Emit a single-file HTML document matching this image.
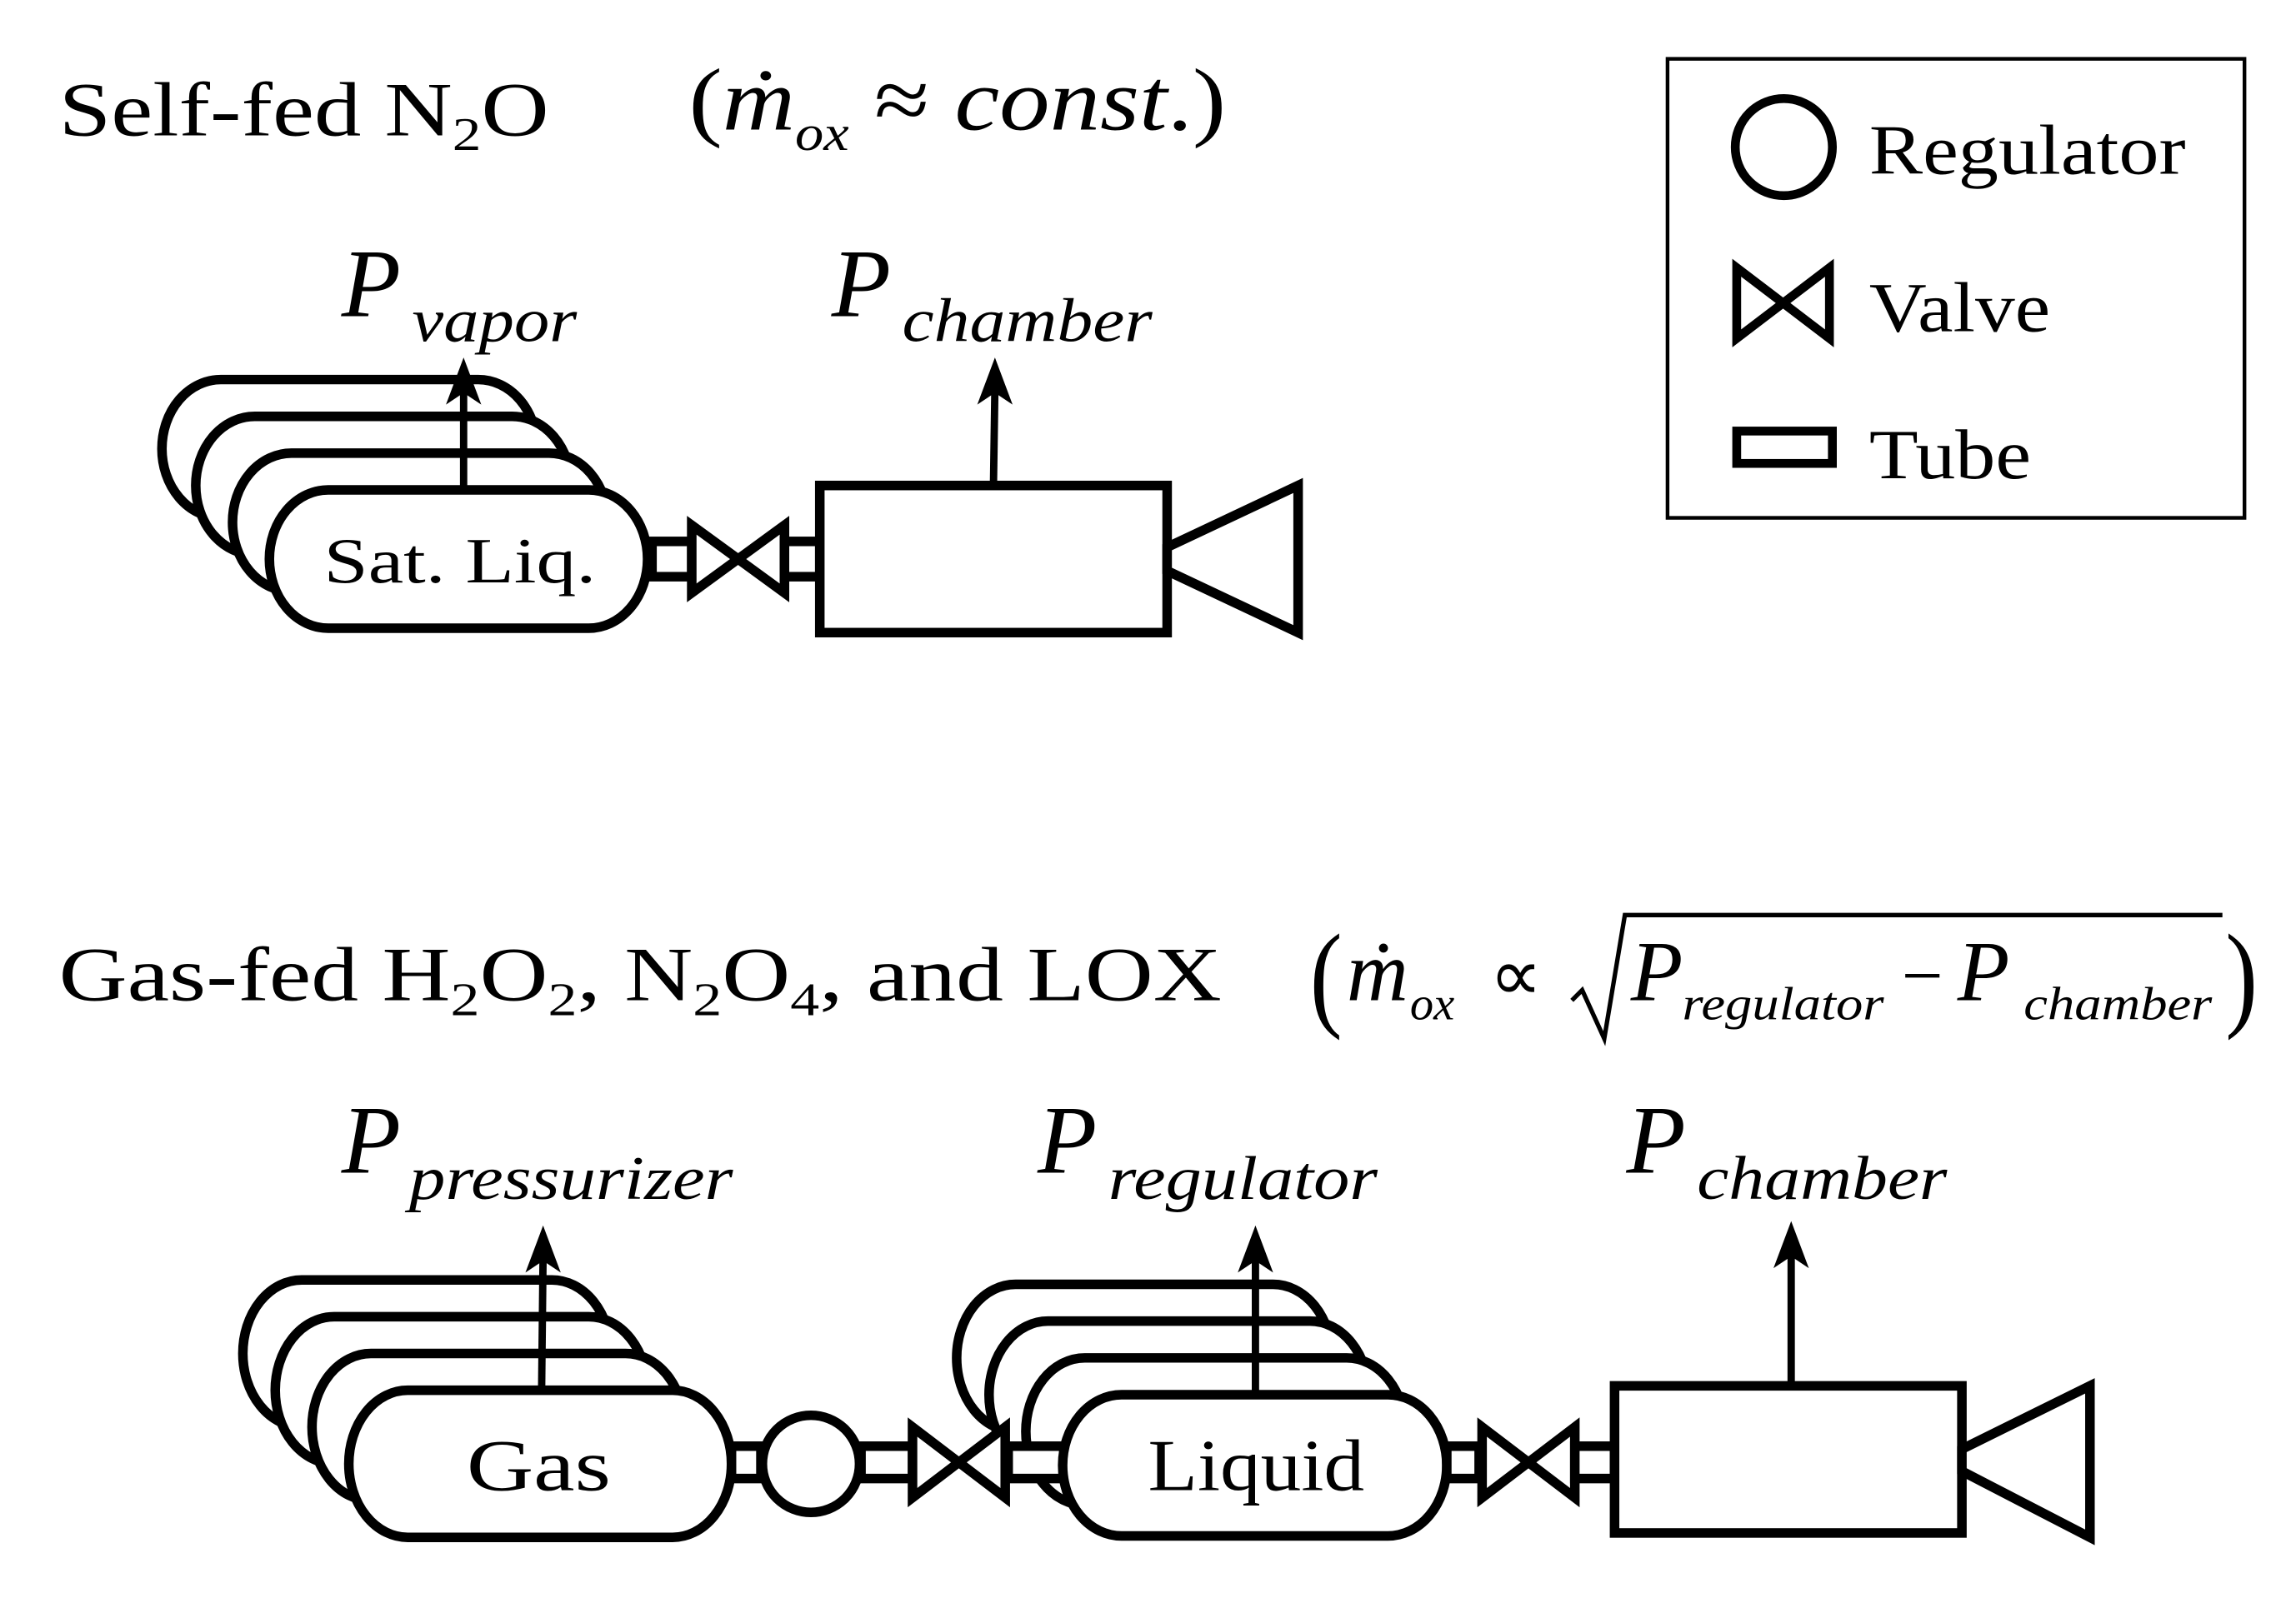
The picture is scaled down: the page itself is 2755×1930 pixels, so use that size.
<!DOCTYPE html>
<html><head><meta charset="utf-8"><style>
html,body{margin:0;padding:0;background:#fff;}
svg{display:block;}
text{font-family:"Liberation Serif","Times New Roman",serif;fill:#000;}
.it{font-style:italic;}
</style></head><body>
<svg width="2755" height="1930" viewBox="0 0 1560 1093" preserveAspectRatio="none" xmlns="http://www.w3.org/2000/svg">
<g fill="none" stroke="#000" stroke-width="6">
<rect x="1133" y="40" width="392" height="312" stroke-width="2.5"/>
<circle cx="1212" cy="100" r="33"/>
<path d="M1180,182 L1243,230 L1243,182 L1180,230 Z"/>
<rect x="1180" y="293" width="65" height="22"/>
</g>
<text x="1270" y="118" font-size="48" textLength="215" lengthAdjust="spacingAndGlyphs">Regulator</text>
<text x="1270" y="225" font-size="48" textLength="123" lengthAdjust="spacingAndGlyphs">Valve</text>
<text x="1270" y="325" font-size="48" textLength="110" lengthAdjust="spacingAndGlyphs">Tube</text>

<text x="40" y="92" font-size="52" textLength="333" lengthAdjust="spacingAndGlyphs">Self-fed N<tspan font-size="32" dy="10">2</tspan><tspan dy="-10">O</tspan></text>
<text x="468" y="88" font-size="60" textLength="365" lengthAdjust="spacingAndGlyphs">(<tspan class="it">ṁ</tspan><tspan class="it" font-size="34" dy="14">ox</tspan><tspan dy="-14"> ≈ </tspan><tspan class="it">const</tspan>.)</text>

<text x="40" y="680" font-size="52" textLength="790" lengthAdjust="spacingAndGlyphs">Gas-fed H<tspan font-size="32" dy="10">2</tspan><tspan dy="-10">O</tspan><tspan font-size="32" dy="10">2</tspan><tspan dy="-10">, N</tspan><tspan font-size="32" dy="10">2</tspan><tspan dy="-10">O</tspan><tspan font-size="32" dy="10">4</tspan><tspan dy="-10">, and LOX</tspan></text>
<text x="890" y="690" font-size="80" textLength="22" lengthAdjust="spacingAndGlyphs">(</text>
<text x="1512" y="690" font-size="80" textLength="22" lengthAdjust="spacingAndGlyphs">)</text>
<text x="915" y="680" font-size="58" class="it">ṁ</text>
<text x="958" y="693" font-size="32" class="it">ox</text>
<text x="1012" y="680" font-size="50">∝</text>
<path d="M1068,680 L1075,673 L1090,706 L1104,622 L1510,622" fill="none" stroke="#000" stroke-width="3"/>
<text x="1108" y="680" font-size="58" class="it">P</text>
<text x="1143" y="693" font-size="32" class="it" textLength="137" lengthAdjust="spacingAndGlyphs">regulator</text>
<text x="1292" y="680" font-size="50">−</text>
<text x="1330" y="680" font-size="58" class="it">P</text>
<text x="1375" y="693" font-size="32" class="it" textLength="128" lengthAdjust="spacingAndGlyphs">chamber</text>

<g fill="#fff" stroke="#000" stroke-width="6.5">
<path d="M150,258 L325,258 A40,47 0 0 1 325,352 L150,352 A40,47 0 0 1 150,258 Z"/>
<path d="M173,283 L348,283 A40,47 0 0 1 348,377 L173,377 A40,47 0 0 1 173,283 Z"/>
<path d="M198,308 L373,308 A40,47 0 0 1 373,402 L198,402 A40,47 0 0 1 198,308 Z"/>
<path d="M223,333 L400,333 A40,47 0 0 1 400,427 L223,427 A40,47 0 0 1 223,333 Z"/>
<rect x="443" y="368" width="27" height="24"/>
<path d="M470,357 L533,403 L533,357 L470,403 Z"/>
<rect x="533" y="368" width="24" height="24"/>
<rect x="557" y="330" width="236" height="100"/>
<path d="M793,372 L882,330 L882,430 L793,388 Z"/>

<path d="M205,870 L375,870 A40,50 0 0 1 375,970 L205,970 A40,50 0 0 1 205,870 Z"/>
<path d="M227,895 L400,895 A40,50 0 0 1 400,995 L227,995 A40,50 0 0 1 227,895 Z"/>
<path d="M252,920 L425,920 A40,50 0 0 1 425,1020 L252,1020 A40,50 0 0 1 252,920 Z"/>
<path d="M277,945 L457,945 A40,50 0 0 1 457,1045 L277,1045 A40,50 0 0 1 277,945 Z"/>
<rect x="497" y="983" width="20" height="22"/>
<circle cx="551" cy="995" r="33"/>
<rect x="585" y="983" width="35" height="22"/>
<path d="M690,873 L865,873 A40,50 0 0 1 865,973 L690,973 A40,50 0 0 1 690,873 Z"/>
<path d="M712,898 L890,898 A40,50 0 0 1 890,998 L712,998 A40,50 0 0 1 712,898 Z"/>
<path d="M737,923 L915,923 A40,50 0 0 1 915,1023 L737,1023 A40,50 0 0 1 737,923 Z"/>
<rect x="685" y="983" width="40" height="22"/>
<path d="M620,970 L683,1018 L683,970 L620,1018 Z"/>
<path d="M762,948 L943,948 A40,48 0 0 1 943,1044 L762,1044 A40,48 0 0 1 762,948 Z"/>
<rect x="983" y="983" width="22" height="22"/>
<path d="M1007,970 L1070,1018 L1070,970 L1007,1018 Z"/>
<rect x="1070" y="983" width="27" height="22"/>
<rect x="1097" y="942" width="236" height="100"/>
<path d="M1333,985 L1420,942 L1420,1045 L1333,1000 Z"/>
</g>

<g stroke="#000" stroke-width="5" fill="#000">
<line x1="315" y1="333" x2="315" y2="262"/>
<path d="M315,243 L303,275 L315,267 L327,275 Z" stroke="none"/>
<line x1="675" y1="330" x2="676" y2="262"/>
<path d="M676,243 L664,275 L676,267 L688,275 Z" stroke="none"/>
<line x1="368" y1="945" x2="369" y2="852"/>
<path d="M369,833 L357,865 L369,857 L381,865 Z" stroke="none"/>
<line x1="853" y1="948" x2="853" y2="852"/>
<path d="M853,833 L841,865 L853,857 L865,865 Z" stroke="none"/>
<line x1="1217" y1="942" x2="1217" y2="849"/>
<path d="M1217,830 L1205,862 L1217,854 L1229,862 Z" stroke="none"/>
</g>

<text x="220" y="396" font-size="44" textLength="185" lengthAdjust="spacingAndGlyphs">Sat. Liq.</text>
<text x="317" y="1013" font-size="50" textLength="98" lengthAdjust="spacingAndGlyphs">Gas</text>
<text x="780" y="1013" font-size="50" textLength="147" lengthAdjust="spacingAndGlyphs">Liquid</text>

<text x="232" y="215" font-size="66" class="it">P</text>
<text x="280" y="232" font-size="42" class="it" textLength="112" lengthAdjust="spacingAndGlyphs">vapor</text>
<text x="565" y="215" font-size="66" class="it">P</text>
<text x="613" y="232" font-size="42" class="it" textLength="170" lengthAdjust="spacingAndGlyphs">chamber</text>
<text x="232" y="797" font-size="66" class="it">P</text>
<text x="278" y="815" font-size="42" class="it" textLength="220" lengthAdjust="spacingAndGlyphs">pressurizer</text>
<text x="705" y="797" font-size="66" class="it">P</text>
<text x="753" y="815" font-size="42" class="it" textLength="183" lengthAdjust="spacingAndGlyphs">regulator</text>
<text x="1105" y="797" font-size="66" class="it">P</text>
<text x="1153" y="815" font-size="42" class="it" textLength="170" lengthAdjust="spacingAndGlyphs">chamber</text>
</svg>
</body></html>
